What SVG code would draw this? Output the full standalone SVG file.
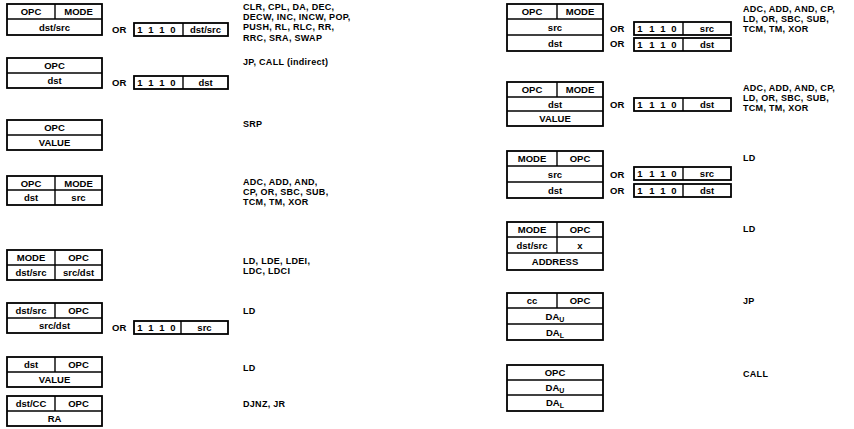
<svg xmlns="http://www.w3.org/2000/svg" width="854" height="429" viewBox="0 0 854 429">
<style>
  .bx{fill:none;stroke:#000;stroke-width:1.8}
  .ln{stroke:#000;stroke-width:1.4}
  text{font-family:"Liberation Sans",Arial,sans-serif;font-weight:bold;font-size:9.5px;fill:#000}
  .c{text-anchor:middle}
  .m{font-size:9px;letter-spacing:0.3px}
  .sub{font-size:7px}
</style>
<rect width="854" height="429" fill="#fff"/>

<!-- LEFT COLUMN -->
<g id="f1">
  <rect class="bx" x="7" y="4" width="95" height="31"/>
  <line class="ln" x1="7" y1="19" x2="102" y2="19"/>
  <line class="ln" x1="55" y1="4" x2="55" y2="19"/>
  <text class="c" x="31" y="15">OPC</text>
  <text class="c" x="78.5" y="15">MODE</text>
  <text class="c" x="54.5" y="31">dst/src</text>
  <text x="112" y="33">OR</text>
  <rect class="bx" x="134" y="23" width="94" height="13"/>
  <line class="ln" x1="183" y1="23" x2="183" y2="36"/>
  <text class="c" x="140" y="33">1</text><text class="c" x="151" y="33">1</text><text class="c" x="162" y="33">1</text><text class="c" x="173" y="33">0</text>
  <text class="c" x="205.5" y="33">dst/src</text>
  <text class="m" x="243" y="10">CLR, CPL, DA, DEC,</text>
  <text class="m" x="243" y="20.2">DECW, INC, INCW, POP,</text>
  <text class="m" x="243" y="30.4">PUSH, RL, RLC, RR,</text>
  <text class="m" x="243" y="40.6">RRC, SRA, SWAP</text>
</g>

<g id="f2">
  <rect class="bx" x="7" y="58" width="95" height="30"/>
  <line class="ln" x1="7" y1="73" x2="102" y2="73"/>
  <text class="c" x="54.5" y="69">OPC</text>
  <text class="c" x="54.5" y="84">dst</text>
  <text x="112" y="86">OR</text>
  <rect class="bx" x="134" y="76" width="94" height="13"/>
  <line class="ln" x1="183" y1="76" x2="183" y2="89"/>
  <text class="c" x="140" y="86">1</text><text class="c" x="151" y="86">1</text><text class="c" x="162" y="86">1</text><text class="c" x="173" y="86">0</text>
  <text class="c" x="205.5" y="86">dst</text>
  <text class="m" x="243" y="65">JP, CALL (indirect)</text>
</g>

<g id="f3">
  <rect class="bx" x="7" y="120" width="95" height="30"/>
  <line class="ln" x1="7" y1="135" x2="102" y2="135"/>
  <text class="c" x="54.5" y="131">OPC</text>
  <text class="c" x="54.5" y="146">VALUE</text>
  <text class="m" x="243" y="127">SRP</text>
</g>

<g id="f4">
  <rect class="bx" x="7" y="176" width="95" height="29"/>
  <line class="ln" x1="7" y1="190" x2="102" y2="190"/>
  <line class="ln" x1="55" y1="176" x2="55" y2="205"/>
  <text class="c" x="31" y="187">OPC</text>
  <text class="c" x="78.5" y="187">MODE</text>
  <text class="c" x="31" y="201">dst</text>
  <text class="c" x="78.5" y="201">src</text>
  <text class="m" x="243" y="184.5">ADC, ADD, AND,</text>
  <text class="m" x="243" y="194.7">CP, OR, SBC, SUB,</text>
  <text class="m" x="243" y="204.9">TCM, TM, XOR</text>
</g>

<g id="f5">
  <rect class="bx" x="7" y="250" width="95" height="30"/>
  <line class="ln" x1="7" y1="265" x2="102" y2="265"/>
  <line class="ln" x1="55" y1="250" x2="55" y2="280"/>
  <text class="c" x="31" y="261">MODE</text>
  <text class="c" x="78.5" y="261">OPC</text>
  <text class="c" x="31" y="276">dst/src</text>
  <text class="c" x="78.5" y="276">src/dst</text>
  <text class="m" x="243" y="264">LD, LDE, LDEI,</text>
  <text class="m" x="243" y="274.2">LDC, LDCI</text>
</g>

<g id="f6">
  <rect class="bx" x="7" y="303" width="95" height="30"/>
  <line class="ln" x1="7" y1="318" x2="102" y2="318"/>
  <line class="ln" x1="55" y1="303" x2="55" y2="318"/>
  <text class="c" x="31" y="314">dst/src</text>
  <text class="c" x="78.5" y="314">OPC</text>
  <text class="c" x="54.5" y="329">src/dst</text>
  <text x="112" y="331">OR</text>
  <rect class="bx" x="134" y="321" width="94" height="13"/>
  <line class="ln" x1="181" y1="321" x2="181" y2="334"/>
  <text class="c" x="140" y="331">1</text><text class="c" x="151" y="331">1</text><text class="c" x="162" y="331">1</text><text class="c" x="173" y="331">0</text>
  <text class="c" x="204.5" y="331">src</text>
  <text class="m" x="243" y="314">LD</text>
</g>

<g id="f7">
  <rect class="bx" x="7" y="357" width="95" height="30"/>
  <line class="ln" x1="7" y1="372" x2="102" y2="372"/>
  <line class="ln" x1="55" y1="357" x2="55" y2="372"/>
  <text class="c" x="31" y="368">dst</text>
  <text class="c" x="78.5" y="368">OPC</text>
  <text class="c" x="54.5" y="383">VALUE</text>
  <text class="m" x="243" y="371">LD</text>
</g>

<g id="f8">
  <rect class="bx" x="7" y="396" width="95" height="30"/>
  <line class="ln" x1="7" y1="411" x2="102" y2="411"/>
  <line class="ln" x1="55" y1="396" x2="55" y2="411"/>
  <text class="c" x="31" y="407">dst/CC</text>
  <text class="c" x="78.5" y="407">OPC</text>
  <text class="c" x="54.5" y="422">RA</text>
  <text class="m" x="243" y="407">DJNZ, JR</text>
</g>

<!-- RIGHT COLUMN -->
<g id="r1">
  <rect class="bx" x="507" y="4" width="96" height="47"/>
  <line class="ln" x1="507" y1="19" x2="603" y2="19"/>
  <line class="ln" x1="507" y1="35" x2="603" y2="35"/>
  <line class="ln" x1="557" y1="4" x2="557" y2="19"/>
  <text class="c" x="532" y="15">OPC</text>
  <text class="c" x="580" y="15">MODE</text>
  <text class="c" x="555" y="31">src</text>
  <text class="c" x="555" y="47">dst</text>
  <text x="610" y="32">OR</text>
  <rect class="bx" x="634" y="22" width="97" height="13"/>
  <line class="ln" x1="683" y1="22" x2="683" y2="35"/>
  <text class="c" x="640" y="32">1</text><text class="c" x="652" y="32">1</text><text class="c" x="663" y="32">1</text><text class="c" x="674" y="32">0</text>
  <text class="c" x="707" y="32">src</text>
  <text x="610" y="47">OR</text>
  <rect class="bx" x="634" y="38" width="97" height="13"/>
  <line class="ln" x1="683" y1="38" x2="683" y2="51"/>
  <text class="c" x="640" y="48">1</text><text class="c" x="652" y="48">1</text><text class="c" x="663" y="48">1</text><text class="c" x="674" y="48">0</text>
  <text class="c" x="707" y="48">dst</text>
  <text class="m" x="743" y="11.5">ADC, ADD, AND, CP,</text>
  <text class="m" x="743" y="21.7">LD, OR, SBC, SUB,</text>
  <text class="m" x="743" y="31.9">TCM, TM, XOR</text>
</g>

<g id="r2">
  <rect class="bx" x="507" y="82" width="96" height="44"/>
  <line class="ln" x1="507" y1="97" x2="603" y2="97"/>
  <line class="ln" x1="507" y1="111" x2="603" y2="111"/>
  <line class="ln" x1="557" y1="82" x2="557" y2="97"/>
  <text class="c" x="532" y="93">OPC</text>
  <text class="c" x="580" y="93">MODE</text>
  <text class="c" x="555" y="108">dst</text>
  <text class="c" x="555" y="122">VALUE</text>
  <text x="610" y="108">OR</text>
  <rect class="bx" x="634" y="98" width="97" height="13"/>
  <line class="ln" x1="683" y1="98" x2="683" y2="111"/>
  <text class="c" x="640" y="108">1</text><text class="c" x="652" y="108">1</text><text class="c" x="663" y="108">1</text><text class="c" x="674" y="108">0</text>
  <text class="c" x="707" y="108">dst</text>
  <text class="m" x="743" y="91">ADC, ADD, AND, CP,</text>
  <text class="m" x="743" y="101.2">LD, OR, SBC, SUB,</text>
  <text class="m" x="743" y="111.4">TCM, TM, XOR</text>
</g>

<g id="r3">
  <rect class="bx" x="507" y="151" width="96" height="47"/>
  <line class="ln" x1="507" y1="166" x2="603" y2="166"/>
  <line class="ln" x1="507" y1="182" x2="603" y2="182"/>
  <line class="ln" x1="557" y1="151" x2="557" y2="166"/>
  <text class="c" x="532" y="162">MODE</text>
  <text class="c" x="580" y="162">OPC</text>
  <text class="c" x="555" y="178">src</text>
  <text class="c" x="555" y="194">dst</text>
  <text x="610" y="178">OR</text>
  <rect class="bx" x="634" y="167" width="97" height="13"/>
  <line class="ln" x1="683" y1="167" x2="683" y2="180"/>
  <text class="c" x="640" y="177">1</text><text class="c" x="652" y="177">1</text><text class="c" x="663" y="177">1</text><text class="c" x="674" y="177">0</text>
  <text class="c" x="707" y="177">src</text>
  <text x="610" y="194">OR</text>
  <rect class="bx" x="634" y="184" width="97" height="13"/>
  <line class="ln" x1="683" y1="184" x2="683" y2="197"/>
  <text class="c" x="640" y="194">1</text><text class="c" x="652" y="194">1</text><text class="c" x="663" y="194">1</text><text class="c" x="674" y="194">0</text>
  <text class="c" x="707" y="194">dst</text>
  <text class="m" x="743" y="161">LD</text>
</g>

<g id="r4">
  <rect class="bx" x="507" y="222" width="96" height="48"/>
  <line class="ln" x1="507" y1="237" x2="603" y2="237"/>
  <line class="ln" x1="507" y1="253" x2="603" y2="253"/>
  <line class="ln" x1="557" y1="222" x2="557" y2="253"/>
  <text class="c" x="532" y="233">MODE</text>
  <text class="c" x="580" y="233">OPC</text>
  <text class="c" x="532" y="249">dst/src</text>
  <text class="c" x="580" y="249">x</text>
  <text class="c" x="555" y="265">ADDRESS</text>
  <text class="m" x="743" y="232">LD</text>
</g>

<g id="r5">
  <rect class="bx" x="507" y="293" width="96" height="47"/>
  <line class="ln" x1="507" y1="308" x2="603" y2="308"/>
  <line class="ln" x1="507" y1="324" x2="603" y2="324"/>
  <line class="ln" x1="557" y1="293" x2="557" y2="308"/>
  <text class="c" x="532" y="304">cc</text>
  <text class="c" x="580" y="304">OPC</text>
  <text class="c" x="555" y="320">DA<tspan class="sub" dy="2">U</tspan></text>
  <text class="c" x="555" y="336">DA<tspan class="sub" dy="2">L</tspan></text>
  <text class="m" x="743" y="304">JP</text>
</g>

<g id="r6">
  <rect class="bx" x="507" y="365" width="96" height="46"/>
  <line class="ln" x1="507" y1="380" x2="603" y2="380"/>
  <line class="ln" x1="507" y1="395" x2="603" y2="395"/>
  <text class="c" x="555" y="376">OPC</text>
  <text class="c" x="555" y="391">DA<tspan class="sub" dy="2">U</tspan></text>
  <text class="c" x="555" y="406">DA<tspan class="sub" dy="2">L</tspan></text>
  <text class="m" x="743" y="377">CALL</text>
</g>

<g id="connectors"></g>
</svg>
